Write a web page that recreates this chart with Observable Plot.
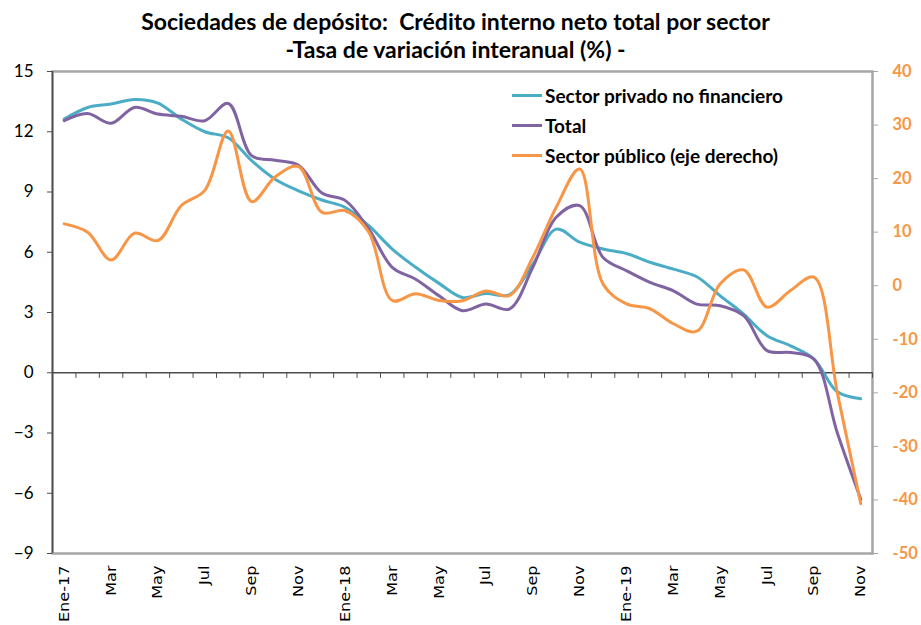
<!DOCTYPE html>
<html><head><meta charset="utf-8">
<script src="https://cdn.jsdelivr.net/npm/d3@7"></script>
<script src="https://cdn.jsdelivr.net/npm/@observablehq/plot@0.6"></script>
<style>
body{margin:0;background:#fff;width:921px;height:625px;position:relative;overflow:hidden;font-family:Lato, sans-serif}
#title{height:62px;text-align:center;font-weight:bold;font-size:23px;line-height:28px;padding-top:7px;box-sizing:border-box;padding-right:10px;color:#000;white-space:nowrap}
#chart{height:563px}
#legend{position:absolute;left:512px;top:80px;}
.item{height:30px;display:flex;align-items:center;font-weight:bold;font-size:19px;color:#000;white-space:nowrap}
.sw{width:30px;height:3px;margin-right:3px}
</style></head>
<body>
<div id="title">Sociedades de depósito:&nbsp; Crédito interno neto total por sector<br>-Tasa de variación interanual (%) -</div>
<div id="chart"></div>
<div id="legend"></div>
<script>
const months = ["Ene-17","Feb","Mar","Abr","May","Jun","Jul","Ago","Sep","Oct","Nov","Dic",
  "Ene-18","Feb","Mar","Abr","May","Jun","Jul","Ago","Sep","Oct","Nov","Dic",
  "Ene-19","Feb","Mar","Abr","May","Jun","Jul","Ago","Sep","Oct","Nov"];
const privado = [12.63,13.21,13.38,13.61,13.43,12.63,12.0,11.7,10.56,9.64,9.06,8.6,
  8.23,7.32,6.16,5.25,4.45,3.75,3.95,3.88,5.4,7.15,6.5,6.16,
  5.94,5.5,5.16,4.78,3.83,2.92,1.84,1.34,0.68,-0.95,-1.3];
const total = [12.55,12.91,12.42,13.21,12.88,12.77,12.55,13.41,10.81,10.58,10.33,8.95,
  8.57,7.15,5.25,4.66,3.83,3.09,3.42,3.17,5.25,7.74,8.32,5.74,
  5.08,4.5,4.08,3.42,3.34,2.84,1.1,1.01,0.68,-3.0,-6.3];
const publico = [11.55,10.0,4.8,9.8,8.44,14.97,17.8,28.9,15.7,20.3,22.25,13.7,
  14.0,10.0,-2.76,-1.5,-2.76,-2.8,-1.0,-1.84,5.3,14.66,21.8,0.3,
  -3.4,-4.3,-7.1,-8.5,0.35,2.96,-4.0,-0.9,1.6,-20,-40.7];
const leftTicks = [-9,-6,-3,0,3,6,9,12,15];
const rightTicks = [-50,-40,-30,-20,-10,0,10,20,30,40];
const seriesNames = ["Sector privado no financiero","Total","Sector público (eje derecho)"];
const colors = ["#4BACC6","#8064A2","#F79646"];

const N = months.length;
const idx = d3.range(N);
const toLeft = r => -9 + (r + 50) * 24 / 90;
const fromLeft = v => (v + 9) * 90 / 24 - 50;
const data = idx.map(i => ({i, privado: privado[i], total: total[i], publico: publico[i]}));
const gray = "#A6A6A6", dark = "#4D4D4D", orange = "#F79646";
const step = (921 - 52 - 49) / N;

const chart = Plot.plot({
  width: 921, height: 563,
  marginTop: 9, marginBottom: 72, marginLeft: 52, marginRight: 49,
  style: {fontFamily: "Lato, sans-serif", background: "#fff", color: "#000", overflow: "visible"},
  x: {type: "point", domain: idx, padding: 0.5, round: false},
  y: {domain: [-9, 15]},
  marks: [
    Plot.frame({stroke: gray, strokeWidth: 2.5}),
    Plot.ruleX([0], {dx: -step/2, y1: -9, y2: 15, stroke: dark, strokeWidth: 1.5}),
    Plot.ruleY([0], {stroke: dark, strokeWidth: 1.5}),
    Plot.ruleX(idx, {x: d => d, dx: -step/2, y1: 0, y2: -0.28, stroke: dark}),
    Plot.ruleX([N - 1], {x: d => d, dx: step/2, y1: 0, y2: -0.28, stroke: dark}),
    Plot.axisY(leftTicks, {anchor: "left", tickSize: 5, tickPadding: 14, fontSize: 17, stroke: dark, fill: "#000", label: null}),
    Plot.axisY(rightTicks.map(toLeft), {anchor: "right", tickSize: 5, tickPadding: 15, stroke: gray, fill: orange,
      fontWeight: "bold", fontSize: 16.5, textAnchor: "start", tickFormat: v => String(Math.round(fromLeft(v))), label: null}),
    Plot.axisX(idx.filter(i => i % 2 === 0), {anchor: "bottom", tickSize: 0, tickPadding: 12, tickRotate: -90,
      tickFormat: i => months[i], fontFamily: "DejaVu Sans", fontSize: 14, fill: "#000", label: null}),
    Plot.line(data, {x: "i", y: "privado", stroke: colors[0], strokeWidth: 3, curve: "catmull-rom"}),
    Plot.line(data, {x: "i", y: "total", stroke: colors[1], strokeWidth: 3, curve: "catmull-rom"}),
    Plot.line(data, {x: "i", y: d => toLeft(d.publico), stroke: colors[2], strokeWidth: 3, curve: "catmull-rom"})
  ]
});
// stretch the rotated month labels slightly along their length
chart.querySelectorAll('g[aria-label="x-axis tick label"] text').forEach(t => {
  const tr = t.getAttribute("transform");
  if (tr && tr.includes("rotate")) t.setAttribute("transform", tr + " scale(1.15,1)");
});
document.getElementById("chart").appendChild(chart);

const legend = document.getElementById("legend");
seriesNames.forEach((name, k) => {
  const item = document.createElement("div");
  item.className = "item";
  const sw = document.createElement("span");
  sw.className = "sw";
  sw.style.background = colors[k];
  const t = document.createElement("span");
  t.textContent = name;
  item.appendChild(sw); item.appendChild(t);
  legend.appendChild(item);
});
</script>
</body></html>
